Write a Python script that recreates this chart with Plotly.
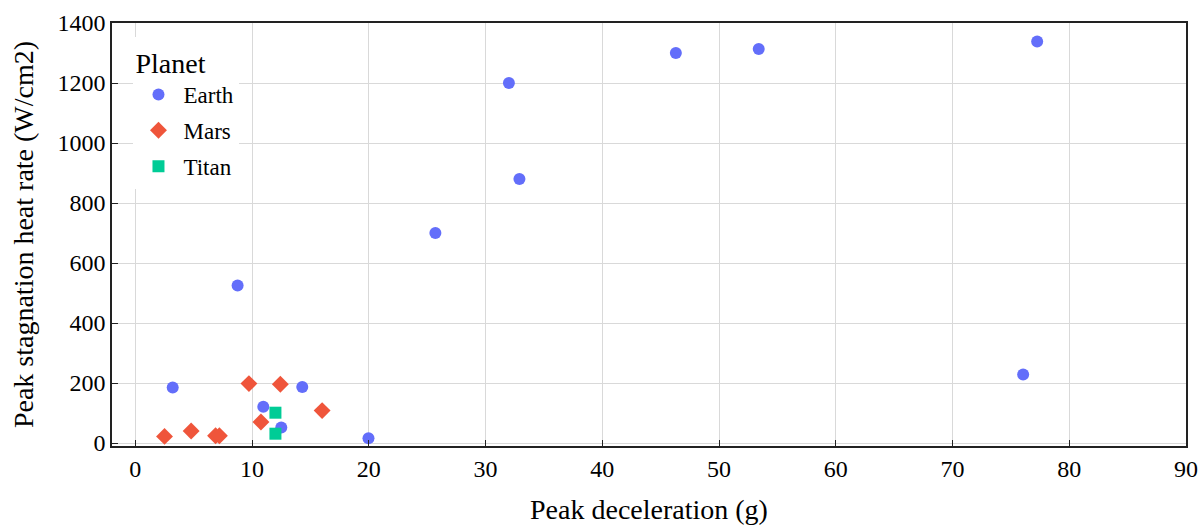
import plotly.graph_objects as go

earth_x = [3.2, 8.76, 10.96, 12.5, 14.3, 19.97, 25.7, 32.0, 32.9, 46.3, 53.4, 77.25, 76.05]
earth_y = [185, 525, 121, 52, 187, 16, 700, 1200, 880, 1300, 1313, 1338, 228]

mars_x = [2.5, 4.78, 6.87, 7.2, 9.73, 10.76, 12.42, 16.0]
mars_y = [22, 40, 24, 24, 198, 70, 196, 108]

titan_x = [12.0, 12.0]
titan_y = [101, 31]

series = [
    ("Earth", earth_x, earth_y, "circle", "#636EFA", 12),
    ("Mars", mars_x, mars_y, "diamond", "#EF553B", 13),
    ("Titan", titan_x, titan_y, "square", "#00CC96", 12),
]

fig = go.Figure()
for name, xs, ys, sym, col, sz in series:
    fig.add_trace(go.Scatter(
        x=xs, y=ys, mode="markers", name=name, legendgroup=name,
        marker=dict(symbol=sym, color=col, size=sz, line=dict(width=0)),
    ))

font_family = "Liberation Serif, Times New Roman, serif"
axis_common = dict(
    showline=True, mirror=True, linecolor="#222", linewidth=1.5,
    ticks="inside", ticklen=6, tickcolor="#222",
    showgrid=True, gridcolor="#d9d9d9", gridwidth=1,
    zeroline=False, automargin=False,
    tickfont=dict(size=24, family=font_family, color="black"),
)

fig.update_layout(
    width=1200, height=525,
    margin=dict(l=112, r=14, t=23, b=79),
    paper_bgcolor="white", plot_bgcolor="white",
    font=dict(family=font_family, color="black", size=23),
    xaxis=dict(range=[-2, 90], dtick=10,
               title=dict(text="Peak deceleration (g)", font=dict(size=28, family=font_family), standoff=19),
               **axis_common),
    yaxis=dict(range=[-10, 1400], dtick=200,
               title=dict(text="Peak stagnation heat rate (W/cm2)", font=dict(size=28, family=font_family), standoff=16),
               **axis_common),
    legend=dict(
        title=dict(text="Planet", font=dict(size=28, family=font_family)),
        x=0.02, y=0.968, xanchor="left", yanchor="top",
        bgcolor="white", font=dict(size=23, family=font_family),
        traceorder="grouped", tracegroupgap=3, itemwidth=40,
    ),
)

fig.write_html("out.html")
